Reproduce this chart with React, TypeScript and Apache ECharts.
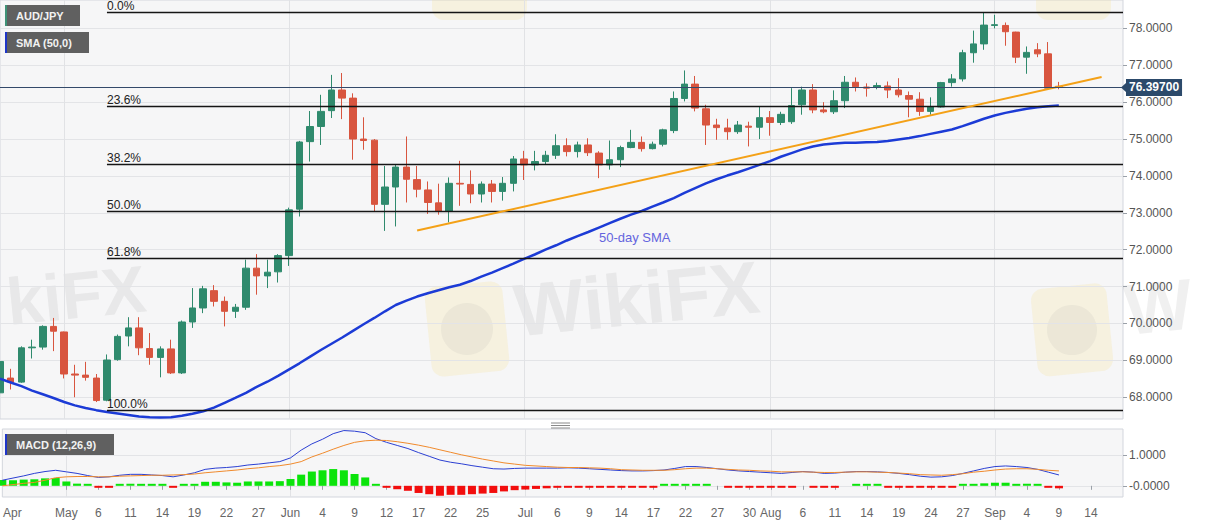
import React, { useEffect, useRef } from 'react';
import * as echarts from 'echarts';

// ---------- data ----------
const START_DATE = '2020-04-23';
const CATEGORY_COUNT = 106; // trading days shown on the axis (Apr 23 .. Sep 17)

// [open, close, low, high]
const candles: number[][] = [
  [68.12, 68.97, 67.80, 69.00], [68.52, 68.41, 68.21, 68.77], [68.41, 69.34, 68.39, 69.38], [69.34, 69.36, 69.05, 69.56],
  [69.36, 69.92, 69.29, 69.95], [69.92, 69.79, 69.25, 70.15], [69.77, 68.63, 68.51, 69.78], [68.63, 68.60, 68.00, 68.88],
  [68.60, 68.54, 68.45, 68.96], [68.52, 67.91, 67.87, 68.63], [67.92, 69.01, 67.89, 69.16], [69.02, 69.65, 68.99, 69.70],
  [69.66, 69.88, 69.38, 70.17], [69.88, 69.34, 69.14, 70.17], [69.32, 69.08, 68.88, 69.74], [69.08, 69.31, 68.54, 69.38],
  [69.31, 68.66, 68.63, 69.56], [68.66, 70.04, 68.63, 70.08], [70.04, 70.42, 69.88, 70.96], [70.42, 70.94, 70.28, 71.02],
  [70.89, 70.60, 70.46, 71.04], [70.60, 70.33, 69.92, 70.73], [70.33, 70.44, 70.15, 70.53], [70.44, 71.50, 70.37, 71.73],
  [71.50, 71.29, 70.78, 71.88], [71.29, 71.39, 70.96, 71.73], [71.40, 71.84, 71.11, 71.88], [71.84, 73.08, 71.56, 73.14],
  [73.10, 74.92, 72.90, 74.95], [74.93, 75.34, 74.39, 75.76], [75.34, 75.75, 74.84, 76.20], [75.77, 76.33, 75.57, 76.74],
  [76.33, 76.11, 75.54, 76.79], [76.11, 75.00, 74.44, 76.24], [75.00, 74.96, 74.71, 75.59], [74.97, 73.23, 73.04, 75.00],
  [73.23, 73.70, 72.51, 74.27], [73.70, 74.24, 72.63, 74.30], [74.24, 73.91, 73.28, 75.07], [73.90, 73.64, 73.42, 74.27],
  [73.62, 73.28, 72.97, 73.85], [73.27, 73.04, 72.95, 73.79], [73.04, 73.80, 72.74, 73.96], [73.80, 73.78, 73.19, 74.41],
  [73.77, 73.51, 73.26, 74.15], [73.51, 73.78, 73.28, 73.85], [73.78, 73.58, 73.28, 73.89], [73.58, 73.80, 73.33, 73.97],
  [73.80, 74.46, 73.58, 74.54], [74.46, 74.30, 73.89, 74.68], [74.30, 74.39, 74.15, 74.68], [74.39, 74.56, 74.30, 74.68],
  [74.56, 74.82, 74.46, 75.13], [74.82, 74.66, 74.53, 75.02], [74.66, 74.84, 74.50, 74.93], [74.84, 74.63, 74.54, 75.02],
  [74.62, 74.30, 73.94, 74.67], [74.30, 74.44, 74.17, 74.96], [74.44, 74.77, 74.24, 74.82], [74.77, 74.91, 74.75, 75.25],
  [74.91, 74.74, 74.66, 75.07], [74.74, 74.86, 74.72, 74.93], [74.86, 75.25, 74.80, 75.28], [75.23, 76.10, 75.16, 76.29],
  [76.10, 76.49, 76.02, 76.86], [76.49, 75.84, 75.75, 76.71], [75.82, 75.38, 74.84, 75.93], [75.38, 75.31, 74.98, 75.55],
  [75.30, 75.20, 74.98, 75.55], [75.20, 75.38, 75.14, 75.49], [75.35, 75.32, 74.80, 75.47], [75.32, 75.58, 75.00, 75.88],
  [75.58, 75.45, 75.09, 75.76], [75.45, 75.67, 75.38, 75.74], [75.47, 75.91, 75.41, 76.38], [75.93, 76.33, 75.66, 76.42],
  [76.33, 75.79, 75.70, 76.49], [75.79, 75.74, 75.70, 76.00], [75.74, 76.04, 75.68, 76.32], [76.04, 76.54, 75.84, 76.71],
  [76.54, 76.42, 76.29, 76.67], [76.41, 76.38, 76.15, 76.51], [76.40, 76.45, 76.35, 76.53], [76.44, 76.33, 76.11, 76.56],
  [76.33, 76.20, 76.13, 76.65], [76.18, 76.08, 75.59, 76.29], [76.08, 75.75, 75.63, 76.27], [75.75, 75.88, 75.66, 76.13],
  [75.87, 76.53, 75.85, 76.55], [76.53, 76.63, 76.42, 76.76], [76.63, 77.34, 76.56, 77.42], [77.34, 77.58, 77.07, 77.94],
  [77.58, 78.09, 77.42, 78.44], [78.08, 78.10, 78.00, 78.37], [78.08, 77.91, 77.53, 78.16], [77.90, 77.22, 77.06, 77.91],
  [77.22, 77.35, 76.77, 77.51], [77.42, 77.31, 77.22, 77.60], [77.31, 76.38, 76.35, 77.63], [76.43, 76.397, 76.35, 76.55],
];

const sma50: number[] = [
  68.50, 68.40, 68.30, 68.18, 68.08, 67.98, 67.87, 67.78, 67.71, 67.65,
  67.60, 67.56, 67.52, 67.48, 67.46, 67.45, 67.46, 67.50, 67.55, 67.62,
  67.72, 67.85, 67.98, 68.12, 68.28, 68.42, 68.58, 68.75, 68.92, 69.10,
  69.28, 69.45, 69.62, 69.80, 69.98, 70.15, 70.33, 70.50, 70.62, 70.73,
  70.82, 70.90, 70.98, 71.05, 71.15, 71.27, 71.38, 71.50, 71.62, 71.75,
  71.87, 72.00, 72.12, 72.25, 72.37, 72.48, 72.60, 72.72, 72.84, 72.95,
  73.05, 73.17, 73.28, 73.40, 73.54, 73.67, 73.80, 73.91, 74.01, 74.10,
  74.20, 74.30, 74.40, 74.52, 74.62, 74.72, 74.80, 74.85, 74.88, 74.90,
  74.90, 74.91, 74.92, 74.95, 74.99, 75.03, 75.08, 75.14, 75.20, 75.26,
  75.35, 75.45, 75.55, 75.64, 75.71, 75.77, 75.82, 75.86, 75.89, 75.91,
];

const macdLine: number[] = [
  0.18, 0.25, 0.32, 0.40, 0.46, 0.50, 0.45, 0.40, 0.33, 0.27,
  0.29, 0.34, 0.37, 0.37, 0.35, 0.33, 0.29, 0.35, 0.42, 0.53,
  0.57, 0.59, 0.62, 0.67, 0.70, 0.74, 0.78, 0.90, 1.15, 1.35,
  1.50, 1.68, 1.78, 1.76, 1.71, 1.52, 1.40, 1.30, 1.20, 1.07,
  0.95, 0.83, 0.76, 0.71, 0.65, 0.60, 0.55, 0.54, 0.56, 0.57,
  0.57, 0.57, 0.57, 0.58, 0.57, 0.55, 0.53, 0.51, 0.49, 0.48,
  0.48, 0.49, 0.51, 0.56, 0.62, 0.62, 0.59, 0.55, 0.51, 0.48,
  0.46, 0.44, 0.42, 0.40, 0.43, 0.46, 0.44, 0.40, 0.41, 0.44,
  0.46, 0.46, 0.45, 0.43, 0.40, 0.36, 0.31, 0.28, 0.29, 0.33,
  0.40, 0.48, 0.56, 0.62, 0.64, 0.62, 0.59, 0.53, 0.44, 0.35,
];

const signalLine: number[] = [
  0.00, 0.04, 0.08, 0.11, 0.18, 0.26, 0.29, 0.30, 0.30, 0.29,
  0.29, 0.31, 0.32, 0.33, 0.34, 0.34, 0.35, 0.36, 0.38, 0.42,
  0.45, 0.48, 0.51, 0.55, 0.58, 0.62, 0.65, 0.70, 0.78, 0.93,
  1.05, 1.18, 1.30, 1.40, 1.45, 1.47, 1.46, 1.42, 1.37, 1.31,
  1.24, 1.16, 1.08, 1.00, 0.93, 0.86, 0.80, 0.74, 0.70, 0.66,
  0.64, 0.62, 0.60, 0.59, 0.59, 0.58, 0.57, 0.55, 0.52, 0.51,
  0.50, 0.50, 0.50, 0.52, 0.55, 0.57, 0.57, 0.55, 0.53, 0.51,
  0.50, 0.48, 0.47, 0.45, 0.45, 0.45, 0.44, 0.43, 0.43, 0.44,
  0.45, 0.45, 0.44, 0.43, 0.41, 0.39, 0.36, 0.35, 0.34, 0.36,
  0.39, 0.44, 0.47, 0.51, 0.54, 0.55, 0.55, 0.53, 0.50, 0.48,
];

const macdHist: (number | null)[] = [
  0.19, 0.18, 0.20, 0.21, 0.24, 0.25, 0.14, 0.07, 0.01, -0.01,
  -0.01, 0.01, 0.02, 0.01, 0.01, 0.005, -0.01, 0.01, 0.05, 0.13,
  0.13, 0.11, 0.10, 0.14, 0.14, 0.14, 0.15, 0.22, 0.36, 0.46,
  0.50, 0.54, 0.50, 0.38, 0.27, 0.05, -0.05, -0.11, -0.16, -0.23,
  -0.27, -0.32, -0.29, -0.29, -0.27, -0.25, -0.23, -0.18, -0.14, -0.12,
  -0.10, -0.08, -0.05, -0.04, -0.03, -0.03, -0.03, -0.03, -0.03, -0.02,
  -0.02, -0.01, 0.01, 0.03, 0.06, 0.06, 0.02, null, -0.03, -0.04,
  -0.04, -0.04, -0.04, -0.04, -0.03, null, -0.02, -0.02, -0.02, null,
  0.005, 0.005, 0.005, -0.005, -0.01, -0.02, -0.04, -0.05, -0.04, -0.02,
  0.01, 0.04, 0.08, 0.10, 0.10, 0.06, 0.03, 0.01, -0.04, -0.08,
];

const fibLevels = [78.44, 75.89, 74.31, 73.04, 71.77, 67.64];
const fibLabels = ['0.0%', '23.6%', '38.2%', '50.0%', '61.8%', '100.0%'];
const fibStartDate = '2020-05-07';
const fibEndDate = '2020-09-17';

const trendStart: [string, number] = ['2020-06-17', 72.52];
const trendEnd: [string, number] = ['2020-09-15', 76.68];

const lastPrice = 76.397;
const smaLabelAt: [string, number] = ['2020-07-10', 72.32];

const priceTicks = [68, 69, 70, 71, 72, 73, 74, 75, 76, 77, 78];
const macdTicks = [0, 1];
const priceMin = 67.41;
const priceMax = 78.77;
const macdMin = -0.36;
const macdMax = 1.83;

const xTickLabels: [string, string][] = [
  ['2020-04-23', 'Apr'], ['2020-05-01', 'May'], ['2020-05-06', '6'], ['2020-05-11', '11'], ['2020-05-14', '14'],
  ['2020-05-19', '19'], ['2020-05-22', '22'], ['2020-05-27', '27'], ['2020-06-01', 'Jun'], ['2020-06-04', '4'],
  ['2020-06-09', '9'], ['2020-06-12', '12'], ['2020-06-17', '17'], ['2020-06-22', '22'], ['2020-06-25', '25'],
  ['2020-07-01', 'Jul'], ['2020-07-06', '6'], ['2020-07-09', '9'], ['2020-07-14', '14'], ['2020-07-17', '17'],
  ['2020-07-22', '22'], ['2020-07-27', '27'], ['2020-07-30', '30'], ['2020-08-03', 'Aug'], ['2020-08-06', '6'],
  ['2020-08-11', '11'], ['2020-08-14', '14'], ['2020-08-19', '19'], ['2020-08-24', '24'], ['2020-08-27', '27'],
  ['2020-09-01', 'Sep'], ['2020-09-04', '4'], ['2020-09-09', '9'], ['2020-09-14', '14'],
];
const monthStarts = ['2020-05-01', '2020-06-01', '2020-07-01', '2020-08-03', '2020-09-01'];

// ---------- helpers ----------
function tradingDays(start: string, count: number): string[] {
  const out: string[] = [];
  const d = new Date(start + 'T00:00:00Z');
  while (out.length < count) {
    const wd = d.getUTCDay();
    if (wd !== 0 && wd !== 6) out.push(d.toISOString().slice(0, 10));
    d.setUTCDate(d.getUTCDate() + 1);
  }
  return out;
}

const UP = '#2f8a6d';
const DOWN = '#d8553f';
const FONT = '"Liberation Sans", Arial, sans-serif';
const WM_TEXT = 'rgba(140,140,140,0.13)';
const WM_LOGO = 'rgba(245,222,140,0.22)';

export default function App() {
  const ref = useRef<HTMLDivElement>(null);

  useEffect(() => {
    document.body.style.margin = '0';
    if (!ref.current) return;
    const chart = echarts.init(ref.current, undefined, { renderer: 'svg' });
    const dates = tradingDays(START_DATE, CATEGORY_COUNT);
    const labelMap: Record<string, string> = {};
    xTickLabels.forEach(([d, t]) => (labelMap[d] = t));
    const tickSet = new Set(xTickLabels.map((x) => x[0]).filter((d) => d !== START_DATE));
    const monthSet = new Set(monthStarts);

    const fibMarks: any[] = fibLevels.map((lv, i) => [
      {
        coord: [fibStartDate, lv],
        lineStyle: { color: '#151515', width: 1.3, type: 'solid' },
        label: {
          show: true,
          position: 'insideStartTop',
          formatter: fibLabels[i],
          color: '#222',
          fontSize: 12,
          lineHeight: 11,
          padding: 0,
          fontFamily: FONT,
          distance: [0, 1],
        },
      },
      { coord: [fibEndDate, lv] },
    ]);

    const option: any = {
      animation: false,
      backgroundColor: '#ffffff',
      textStyle: { fontFamily: FONT },
      grid: [
        { left: 0, top: 0, width: 1123, height: 419, show: true, backgroundColor: '#f6f6f7', borderColor: '#d3d6dd', borderWidth: 1 },
        { left: 0, top: 429, width: 1123, height: 68, show: true, backgroundColor: '#f6f6f7', borderColor: '#d3d6dd', borderWidth: 1 },
      ],
      xAxis: [
        {
          type: 'category', gridIndex: 0, data: dates, boundaryGap: false,
          axisLabel: { show: false }, axisTick: { show: false }, axisLine: { show: false },
          splitLine: { show: true, interval: (i: number, v: string) => monthSet.has(v), lineStyle: { color: '#e1e2e5', width: 1 } },
        },
        {
          type: 'category', gridIndex: 1, data: dates, boundaryGap: false,
          axisLine: { show: false },
          axisTick: { show: true, interval: (i: number, v: string) => tickSet.has(v), length: 4, lineStyle: { color: '#9aa0a8' } },
          axisLabel: {
            show: true,
            interval: (i: number, v: string) => v in labelMap,
            formatter: (v: string) => (v === START_DATE ? '{a|' + labelMap[v] + '}' : labelMap[v] || ''),
            color: '#666',
            fontSize: 12,
            fontFamily: FONT,
            margin: 10,
            rich: { a: { color: '#666', fontSize: 12, fontFamily: FONT, padding: [0, 0, 0, 20] } },
          },
          splitLine: { show: true, interval: (i: number, v: string) => monthSet.has(v), lineStyle: { color: '#e1e2e5', width: 1 } },
        },
      ],
      yAxis: [
        {
          type: 'value', gridIndex: 0, position: 'right', min: priceMin, max: priceMax, scale: true,
          axisLine: { show: false },
          axisTick: { show: true, customValues: priceTicks, length: 4, lineStyle: { color: '#9aa0a8' } },
          axisLabel: { customValues: priceTicks, formatter: (v: number) => v.toFixed(4), color: '#555', fontSize: 12, fontFamily: FONT, margin: 6 },
          splitLine: { show: true, lineStyle: { color: '#e3e4e7', width: 1 } },
        },
        {
          type: 'value', gridIndex: 1, position: 'right', min: macdMin, max: macdMax,
          axisLine: { show: false },
          axisTick: { show: true, customValues: macdTicks, length: 4, lineStyle: { color: '#9aa0a8' } },
          axisLabel: { customValues: macdTicks, formatter: (v: number) => (v === 0 ? '-0.0000' : v.toFixed(4)), color: '#555', fontSize: 12, fontFamily: FONT, margin: 6 },
          splitLine: { show: true, lineStyle: { color: '#e3e4e7', width: 1 } },
        },
      ],
      series: [
        {
          type: 'candlestick', name: 'AUD/JPY', xAxisIndex: 0, yAxisIndex: 0, data: candles, barWidth: 7,
          itemStyle: { color: UP, color0: DOWN, borderColor: UP, borderColor0: DOWN, borderWidth: 1 },
          markLine: {
            silent: true, symbol: ['none', 'none'], animation: false,
            data: [
              ...fibMarks,
              [
                { coord: trendStart, lineStyle: { color: '#f4a117', width: 2, type: 'solid' }, label: { show: false } },
                { coord: trendEnd },
              ],
              {
                yAxis: lastPrice,
                lineStyle: { color: '#33496a', width: 1, type: 'solid' },
                label: {
                  show: true, position: 'end', formatter: lastPrice.toFixed(5), color: '#fff', fontWeight: 'bold',
                  fontSize: 12, fontFamily: FONT, backgroundColor: '#2c4a6b', padding: [3, 3, 2, 3], distance: 3,
                },
              },
            ],
          },
        },
        {
          type: 'line', name: 'SMA (50,0)', xAxisIndex: 0, yAxisIndex: 0, data: sma50, symbol: 'none',
          lineStyle: { color: '#1c3bd6', width: 2.5 },
          markPoint: {
            silent: true, animation: false,
            data: [{
              coord: smaLabelAt, symbol: 'circle', symbolSize: 0,
              label: { show: true, position: 'right', distance: 0, formatter: '50-day SMA', color: '#6464de', fontSize: 13, fontFamily: FONT },
            }],
          },
        },
        {
          type: 'bar', name: 'Histogram', xAxisIndex: 1, yAxisIndex: 1, barWidth: 8, barMinHeight: 2,
          data: macdHist.map((v) => (v === null ? null : { value: v, itemStyle: { color: v >= 0 ? '#0be40b' : '#f20d0d' } })),
        },
        { type: 'line', name: 'MACD', xAxisIndex: 1, yAxisIndex: 1, data: macdLine, symbol: 'none', lineStyle: { color: '#2b3fd2', width: 1 } },
        { type: 'line', name: 'Signal', xAxisIndex: 1, yAxisIndex: 1, data: signalLine, symbol: 'none', lineStyle: { color: '#f08a2c', width: 1 } },
      ],
      graphic: [
        // faint watermarks
        { type: 'rect', silent: true, z: 0, shape: { x: 428, y: 284, width: 78, height: 90, r: 12 }, rotation: 0.1, originX: 467, originY: 329, style: { fill: WM_LOGO } },
        { type: 'circle', silent: true, z: 0, shape: { cx: 467, cy: 329, r: 26 }, style: { fill: 'rgba(150,150,150,0.10)' } },
        { type: 'text', silent: true, z: 0, x: 518, y: 348, rotation: 0.1, style: { text: 'WikiFX', fontSize: 74, fontWeight: 'bold', fontFamily: FONT, fill: WM_TEXT, textVerticalAlign: 'bottom' } },
        { type: 'text', silent: true, z: 0, x: 10, y: 335, rotation: 0.1, style: { text: 'kiFX', fontSize: 66, fontWeight: 'bold', fontFamily: FONT, fill: WM_TEXT, textVerticalAlign: 'bottom' } },
        { type: 'rect', silent: true, z: 0, shape: { x: 1034, y: 286, width: 76, height: 88, r: 12 }, rotation: 0.1, originX: 1072, originY: 330, style: { fill: WM_LOGO } },
        { type: 'circle', silent: true, z: 0, shape: { cx: 1072, cy: 330, r: 25 }, style: { fill: 'rgba(150,150,150,0.10)' } },
        { type: 'text', silent: true, z: 0, x: 1128, y: 346, rotation: 0.1, style: { text: 'W', fontSize: 72, fontWeight: 'bold', fontFamily: FONT, fill: WM_TEXT, textVerticalAlign: 'bottom' } },
        { type: 'rect', silent: true, z: 0, shape: { x: 432, y: -70, width: 95, height: 90, r: 12 }, style: { fill: WM_LOGO } },
        { type: 'rect', silent: true, z: 0, shape: { x: 1036, y: -70, width: 75, height: 90, r: 12 }, style: { fill: WM_LOGO } },
        // legend boxes
        { type: 'rect', z: 10, shape: { x: 5, y: 5, width: 75, height: 21 }, style: { fill: '#606060' } },
        { type: 'rect', z: 11, shape: { x: 5, y: 5, width: 2, height: 21 }, style: { fill: '#3f9277' } },
        { type: 'text', z: 11, x: 16, y: 15.5, style: { text: 'AUD/JPY', fill: '#f2f2f2', fontSize: 11, fontWeight: 'bold', fontFamily: FONT, textVerticalAlign: 'middle' } },
        { type: 'rect', z: 10, shape: { x: 5, y: 32, width: 84, height: 21 }, style: { fill: '#606060' } },
        { type: 'rect', z: 11, shape: { x: 5, y: 32, width: 2, height: 21 }, style: { fill: '#1f36c8' } },
        { type: 'text', z: 11, x: 16, y: 42.5, style: { text: 'SMA (50,0)', fill: '#f2f2f2', fontSize: 11, fontWeight: 'bold', fontFamily: FONT, textVerticalAlign: 'middle' } },
        { type: 'rect', z: 10, shape: { x: 5, y: 434, width: 109, height: 21 }, style: { fill: '#606060' } },
        { type: 'rect', z: 11, shape: { x: 5, y: 434, width: 2, height: 21 }, style: { fill: '#1f36c8' } },
        { type: 'text', z: 11, x: 16, y: 444.5, style: { text: 'MACD (12,26,9)', fill: '#f2f2f2', fontSize: 11, fontWeight: 'bold', fontFamily: FONT, textVerticalAlign: 'middle' } },
        // price label arrow
        { type: 'polygon', z: 12, shape: { points: [[1121, 87.5], [1126, 83], [1126, 92]] }, style: { fill: '#2c4a6b' } },
        // panel splitter handle
        { type: 'line', z: 10, shape: { x1: 551, y1: 423, x2: 570, y2: 423 }, style: { stroke: '#8a8a8a', lineWidth: 1 } },
        { type: 'line', z: 10, shape: { x1: 551, y1: 425.5, x2: 570, y2: 425.5 }, style: { stroke: '#8a8a8a', lineWidth: 1 } },
        { type: 'line', z: 10, shape: { x1: 551, y1: 428, x2: 570, y2: 428 }, style: { stroke: '#8a8a8a', lineWidth: 1 } },
      ],
    };

    chart.setOption(option);
    return () => chart.dispose();
  }, []);

  return <div ref={ref} style={{ width: 1207, height: 526 }} />;
}
